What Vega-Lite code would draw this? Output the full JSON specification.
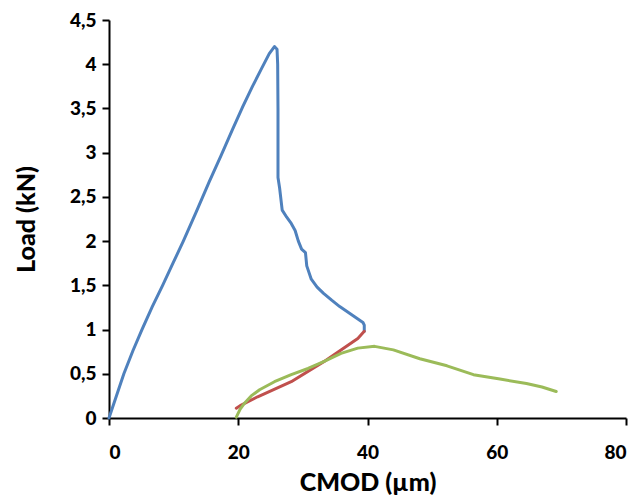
{
  "$schema": "https://vega.github.io/schema/vega-lite/v6.json",
  "width": 517,
  "height": 398,
  "autosize": "none",
  "padding": {"left": 109, "top": 20, "right": 14, "bottom": 84},
  "background": "white",
  "config": {
    "view": {"stroke": null},
    "font": "Lato",
    "axis": {
      "domainColor": "#000000",
      "domainWidth": 2,
      "tickColor": "#000000",
      "tickWidth": 2,
      "tickSize": 7,
      "grid": false,
      "labelFont": "Lato",
      "labelFontWeight": 900,
      "labelFontSize": 19,
      "labelColor": "#000000",
      "titleFont": "Lato",
      "titleFontWeight": 900,
      "titleFontSize": 25,
      "titleColor": "#000000"
    }
  },
  "data": {
    "values": [
      {"s": "A", "i": 0, "x": 0, "y": 0},
      {"s": "A", "i": 2, "x": 2.3, "y": 0.5},
      {"s": "A", "i": 3, "x": 3.7, "y": 0.76},
      {"s": "A", "i": 4, "x": 5.1, "y": 1.0},
      {"s": "A", "i": 5, "x": 6.7, "y": 1.26},
      {"s": "A", "i": 6, "x": 8.3, "y": 1.5},
      {"s": "A", "i": 7, "x": 9.9, "y": 1.75},
      {"s": "A", "i": 8, "x": 11.5, "y": 2.0},
      {"s": "A", "i": 9, "x": 13.5, "y": 2.33},
      {"s": "A", "i": 10, "x": 15.5, "y": 2.67},
      {"s": "A", "i": 11, "x": 17.3, "y": 2.96},
      {"s": "A", "i": 12, "x": 19.1, "y": 3.26},
      {"s": "A", "i": 13, "x": 20.7, "y": 3.52},
      {"s": "A", "i": 14, "x": 22.2, "y": 3.75},
      {"s": "A", "i": 15, "x": 23.6, "y": 3.95},
      {"s": "A", "i": 16, "x": 24.8, "y": 4.12},
      {"s": "A", "i": 17, "x": 25.6, "y": 4.2},
      {"s": "A", "i": 18, "x": 26.0, "y": 4.17},
      {"s": "A", "i": 19, "x": 26.1, "y": 4.0},
      {"s": "A", "i": 20, "x": 26.15, "y": 3.5},
      {"s": "A", "i": 21, "x": 26.15, "y": 3.0},
      {"s": "A", "i": 22, "x": 26.15, "y": 2.72},
      {"s": "A", "i": 23, "x": 26.4, "y": 2.6},
      {"s": "A", "i": 24, "x": 26.8, "y": 2.35},
      {"s": "A", "i": 25, "x": 27.5, "y": 2.27},
      {"s": "A", "i": 26, "x": 28.2, "y": 2.2},
      {"s": "A", "i": 27, "x": 28.8, "y": 2.12},
      {"s": "A", "i": 28, "x": 29.3, "y": 2.0},
      {"s": "A", "i": 29, "x": 29.8, "y": 1.91},
      {"s": "A", "i": 30, "x": 30.4, "y": 1.87},
      {"s": "A", "i": 31, "x": 30.6, "y": 1.72},
      {"s": "A", "i": 32, "x": 31.3, "y": 1.57},
      {"s": "A", "i": 33, "x": 32.2, "y": 1.48},
      {"s": "A", "i": 34, "x": 33.2, "y": 1.41},
      {"s": "A", "i": 35, "x": 34.5, "y": 1.33},
      {"s": "A", "i": 36, "x": 35.7, "y": 1.26},
      {"s": "A", "i": 37, "x": 37.5, "y": 1.17},
      {"s": "A", "i": 38, "x": 39.3, "y": 1.08},
      {"s": "A", "i": 39, "x": 39.5, "y": 1.05},
      {"s": "A", "i": 40, "x": 39.5, "y": 0.98},
      {"s": "B", "i": 0, "x": 19.7, "y": 0.11},
      {"s": "B", "i": 1, "x": 20.3, "y": 0.14},
      {"s": "B", "i": 2, "x": 23.0, "y": 0.24},
      {"s": "B", "i": 3, "x": 28.2, "y": 0.41},
      {"s": "B", "i": 4, "x": 33.3, "y": 0.64},
      {"s": "B", "i": 5, "x": 35.9, "y": 0.77},
      {"s": "B", "i": 6, "x": 38.5, "y": 0.9},
      {"s": "B", "i": 7, "x": 39.5, "y": 0.98},
      {"s": "C", "i": 0, "x": 19.7, "y": 0.01},
      {"s": "C", "i": 1, "x": 20.3, "y": 0.1},
      {"s": "C", "i": 2, "x": 21.0, "y": 0.17},
      {"s": "C", "i": 3, "x": 22.0, "y": 0.25},
      {"s": "C", "i": 4, "x": 23.3, "y": 0.32},
      {"s": "C", "i": 5, "x": 25.6, "y": 0.41},
      {"s": "C", "i": 6, "x": 28.2, "y": 0.49},
      {"s": "C", "i": 7, "x": 30.8, "y": 0.56},
      {"s": "C", "i": 8, "x": 33.3, "y": 0.64},
      {"s": "C", "i": 9, "x": 35.9, "y": 0.73},
      {"s": "C", "i": 10, "x": 38.5, "y": 0.79},
      {"s": "C", "i": 11, "x": 41.1, "y": 0.81},
      {"s": "C", "i": 12, "x": 44.0, "y": 0.77},
      {"s": "C", "i": 13, "x": 48.1, "y": 0.67},
      {"s": "C", "i": 14, "x": 52.3, "y": 0.59},
      {"s": "C", "i": 15, "x": 56.4, "y": 0.49},
      {"s": "C", "i": 16, "x": 60.5, "y": 0.44},
      {"s": "C", "i": 17, "x": 64.6, "y": 0.39},
      {"s": "C", "i": 18, "x": 67.0, "y": 0.35},
      {"s": "C", "i": 19, "x": 69.2, "y": 0.30}
    ]
  },
  "mark": {"type": "line", "strokeWidth": 3, "strokeCap": "round", "strokeJoin": "round"},
  "encoding": {
    "x": {
      "field": "x", "type": "quantitative",
      "scale": {"domain": [0, 80], "nice": false},
      "axis": {"values": [0, 20, 40, 60, 80], "title": "CMOD  (µm)", "labelPadding": 18, "titlePadding": 8}
    },
    "y": {
      "field": "y", "type": "quantitative",
      "scale": {"domain": [0, 4.5], "nice": false},
      "axis": {"values": [0, 0.5, 1, 1.5, 2, 2.5, 3, 3.5, 4, 4.5], "labelExpr": "replace(format(datum.value, ''), '.', ',')", "title": "Load (kN)", "labelPadding": 6, "titlePadding": 30}
    },
    "color": {
      "field": "s", "type": "nominal",
      "scale": {"domain": ["A", "B", "C"], "range": ["#4F81BD", "#C0504D", "#9BBB59"]},
      "legend": null
    },
    "order": {"field": "i", "type": "quantitative"}
  }
}
